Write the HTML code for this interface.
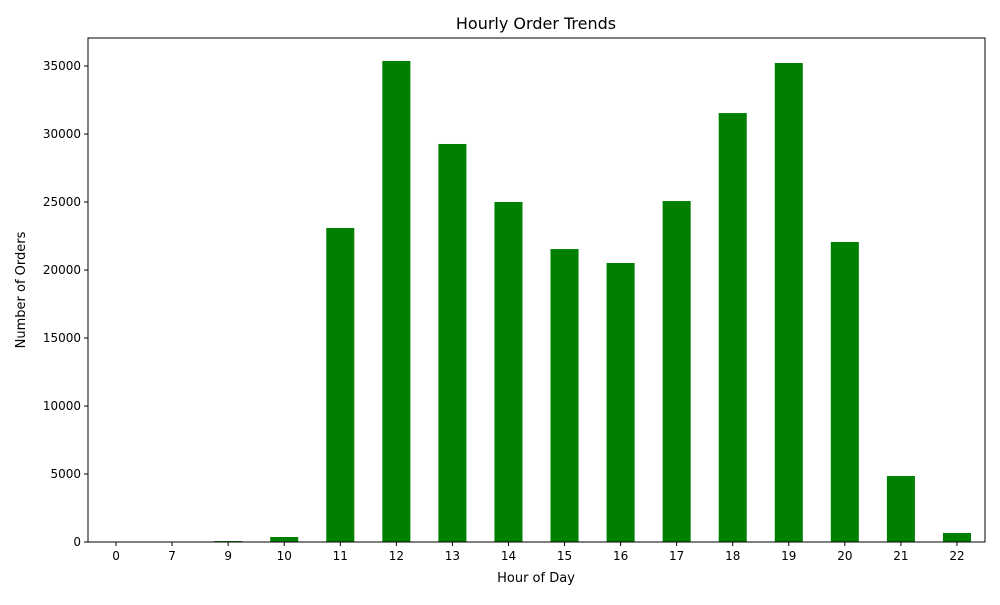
<!DOCTYPE html>
<html><head><meta charset="utf-8"><style>
body{margin:0;background:#fff;font-family:"Liberation Sans","DejaVu Sans",sans-serif;}
svg text{font-family:"DejaVu Sans","Liberation Sans",sans-serif;}
</style></head><body>
<svg id="chart" width="1000" height="600" xmlns="http://www.w3.org/2000/svg">
<rect width="1000" height="600" fill="#fff"/>
<text x="536" y="29" font-size="16" text-anchor="middle">Hourly Order Trends</text>
<text x="536" y="582" font-size="13" text-anchor="middle">Hour of Day</text>
<text x="25" y="290" font-size="13" text-anchor="middle" transform="rotate(-90 25 290)">Number of Orders</text>
<g id="bars"></g><g id="xticks"></g><g id="yticks"></g>
<rect x="88" y="38" width="897" height="504" fill="none" stroke="#000" stroke-width="1"/>
</svg>
<script>
const categories=["0","7","9","10","11","12","13","14","15","16","17","18","19","20","21","22"];
const orders=[2,3,70,368,23090,35370,29265,25000,21540,20515,25070,31540,35220,22060,4850,660];
const yTicks=[0,5000,10000,15000,20000,25000,30000,35000];
const L=88,R=985,T=38,B=542;
const step=(R-L)/categories.length;
const x=i=>L+step*(i+0.5);
const y=v=>B-v*(476/35000);
const ns="http://www.w3.org/2000/svg";
function mk(t,a,p){const e=document.createElementNS(ns,t);for(const k in a)e.setAttribute(k,a[k]);p.appendChild(e);return e;}
const bg=document.getElementById('bars'),xg=document.getElementById('xticks'),yg=document.getElementById('yticks');
categories.forEach((c,i)=>{
 const b=mk('rect',{x:x(i)-step/4,y:y(orders[i]),width:step/2,height:B-y(orders[i]),fill:'#008000'},bg);
 
 
 mk('line',{x1:x(i),x2:x(i),y1:B,y2:B+4,stroke:'#000'},xg);
 const t=mk('text',{x:x(i),y:B+18,'font-size':12,'text-anchor':'middle'},xg);t.textContent=c;
 
 
});
yTicks.forEach(v=>{
 mk('line',{x1:L-4,x2:L,y1:y(v),y2:y(v),stroke:'#000'},yg);
 const t=mk('text',{x:L-7,y:y(v)+4,'font-size':12,'text-anchor':'end'},yg);t.textContent=v;
 
 
});
</script>
</body></html>
